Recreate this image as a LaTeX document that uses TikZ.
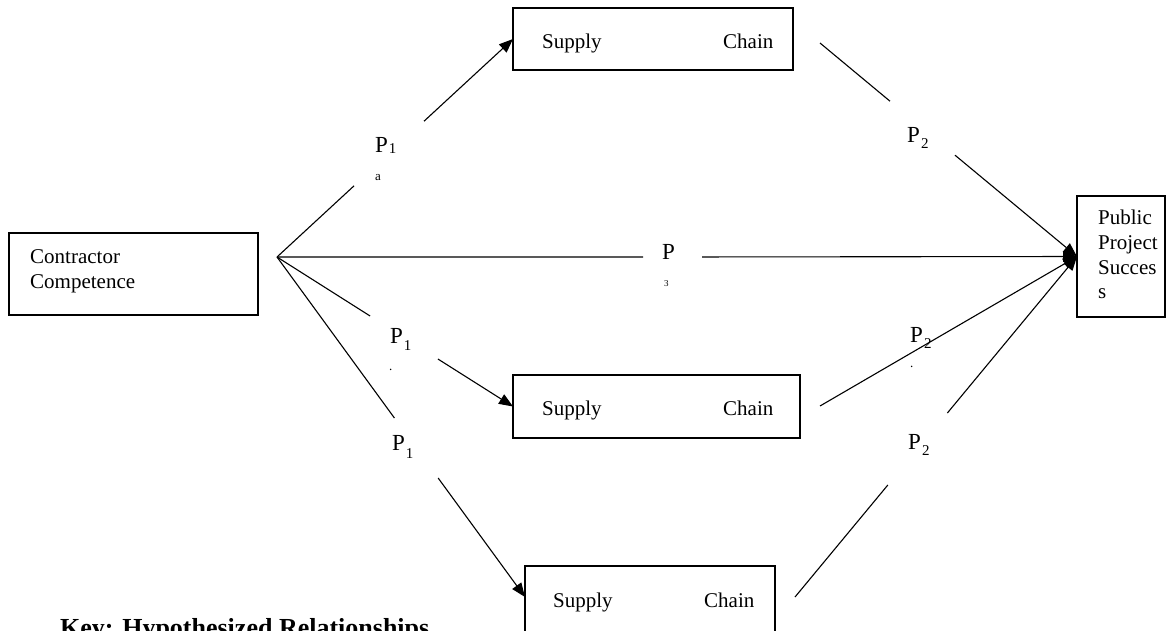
\documentclass[tikz,border=0pt]{standalone}
\usepackage{fontspec}
\setmainfont{Liberation Serif}
\usetikzlibrary{arrows.meta,calc}
\newcommand\psub[2]{P\kern1pt\raisebox{#1}{\fontsize{15}{15}\selectfont #2}}
\begin{document}
\begin{tikzpicture}[x=1pt,y=-1pt,
  box/.style={draw,line width=1.3pt,rectangle,inner sep=0pt,outer sep=0pt},
  gap/.style={rectangle,inner sep=0pt,outer sep=0pt},
  txt/.style={anchor=base west,inner sep=0pt,font=\fontsize{21}{25}\selectfont},
  plab/.style={anchor=base west,inner sep=0pt,font=\fontsize{23}{23}\selectfont},
  small/.style={anchor=base west,inner sep=0pt,font=\fontsize{13}{13}\selectfont},
  conn/.style={line width=1.1pt},
  arr/.style={conn,-{Triangle[length=14pt,width=11pt]}}]
\useasboundingbox (0,0) rectangle (1167,630);
\clip (0,0) rectangle (1167,630);

% boxes
\node[box,minimum width=249pt,minimum height=82pt] (cc) at (133.5,274) {};
\node[box,minimum width=280pt,minimum height=62pt] (sc1) at (653,39) {};
\node[box,minimum width=287pt,minimum height=63pt] (sc2) at (656.5,406.5) {};
\node[box,minimum width=250pt,minimum height=84pt] (sc3) at (650,608) {};
\node[box,minimum width=88pt,minimum height=121pt] (pub) at (1121,256.5) {};

% box texts
\node[txt] (cc1) at (30,263) {Contractor};
\node[txt] (cc2) at (30,288) {Competence};
\node[txt] (sc1a) at (542,48) {Supply};
\node[txt] (sc1b) at (723,48) {Chain};
\node[txt] (sc2a) at (542,415) {Supply};
\node[txt] (sc2b) at (723,415) {Chain};
\node[txt] (sc3a) at (553,607) {Supply};
\node[txt] (sc3b) at (704,607) {Chain};
\node[txt] (pub1) at (1098,224) {Public};
\node[txt] (pub2) at (1098,249) {Project};
\node[txt] (pub3) at (1098,274) {Succes};
\node[txt] (pub4) at (1098,298) {s};

% key
\node[anchor=base west,inner sep=0pt,font=\fontsize{26}{26}\selectfont\bfseries] (key) at (60,636) {Key: Hypothesized Relationships};

% gaps in connectors
\coordinate (hub) at (277,257);
\node[gap,minimum width=70pt,minimum height=64.6pt] (g1a) at (389,153.5) {};
\node[gap,minimum width=59pt,minimum height=4pt] (g3) at (672.5,257) {};
\node[gap,minimum width=68pt,minimum height=43pt] (g1b) at (404,337.5) {};
\node[gap,minimum width=43.8pt,minimum height=60pt] (g1c) at (416.3,448) {};
\coordinate (s1) at (820,43);
\coordinate (s2) at (820,406);
\coordinate (s3) at (795,597);
\node[gap,minimum width=65pt,minimum height=54pt] (g2a) at (922.5,128.2) {};
\node[gap,minimum width=59.6pt,minimum height=72pt] (g2c) at (917.6,449) {};

% labels
\node[plab] (l1a) at (375,152) {\psub{-1pt}{1}};
\node[small] (l1aa) at (375,180) {a};
\node[plab] (l3) at (662,259) {P};
\node[anchor=base west,inner sep=0pt,font=\fontsize{9}{9}\selectfont] (l3a) at (664,286) {3};
\node[plab] (l1b) at (390,343) {\psub{-7pt}{1}};
\node[small] (l1bb) at (389,370) {.};
\node[plab] (l1c) at (392,450) {\psub{-8pt}{1}};
\node[plab] (l2a) at (907,142) {\psub{-6pt}{2}};
\node[plab] (l2b) at (910,342) {\psub{-6pt}{2}};
\node[small] (l2bb) at (910,367) {.};
\node[plab] (l2c) at (908,449) {\psub{-6pt}{2}};

% connectors
\draw[arr] (hub) -- (g1a) -- (sc1.west);
\draw[arr] (hub) -- (g3) -- (pub.west);
\draw[arr] (hub) -- (g1b) -- (sc2.west);
\draw[arr] (hub) -- (g1c) -- ([yshift=-31pt]sc3.north west);
\draw[arr] (s1) -- (g2a) -- (pub.west);
\draw[arr] (s2) -- (pub.west);
\draw[arr] (s3) -- (g2c) -- (pub.west);
\end{tikzpicture}
\end{document}
